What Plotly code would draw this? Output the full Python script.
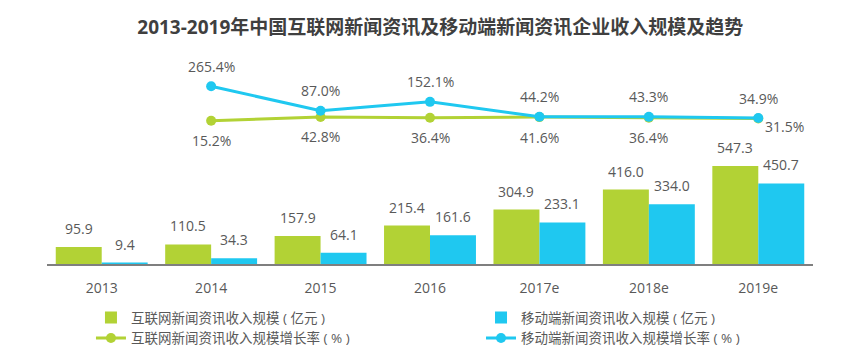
import plotly.graph_objects as go

categories = ["2013", "2014", "2015", "2016", "2017e", "2018e", "2019e"]
internet_rev = [95.9, 110.5, 157.9, 215.4, 304.9, 416.0, 547.3]
mobile_rev = [9.4, 34.3, 64.1, 161.6, 233.1, 334.0, 450.7]
internet_growth = [None, 15.2, 42.8, 36.4, 41.6, 36.4, 31.5]
mobile_growth = [None, 265.4, 87.0, 152.1, 44.2, 43.3, 34.9]

GREEN = "#b2d235"
CYAN = "#1fc8f0"
TXT = "#595959"
FONT = "Open Sans, Noto Sans CJK SC, sans-serif"

fig = go.Figure()
fig.add_trace(go.Bar(x=categories, y=internet_rev, name="互联网新闻资讯收入规模 ( 亿元 )",
                     marker=dict(color=GREEN, line=dict(width=0)), legend="legend"))
fig.add_trace(go.Bar(x=categories, y=mobile_rev, name="移动端新闻资讯收入规模 ( 亿元 )",
                     marker=dict(color=CYAN, line=dict(width=0)), legend="legend2"))
fig.add_trace(go.Scatter(x=categories, y=internet_growth, yaxis="y2", mode="lines+markers",
                         name="互联网新闻资讯收入规模增长率 ( % )", legend="legend",
                         line=dict(color=GREEN, width=3), marker=dict(size=10, color=GREEN)))
fig.add_trace(go.Scatter(x=categories, y=mobile_growth, yaxis="y2", mode="lines+markers",
                         name="移动端新闻资讯收入规模增长率 ( % )", legend="legend2",
                         line=dict(color=CYAN, width=3), marker=dict(size=10, color=CYAN)))

lab_font = dict(size=14, color=TXT, family=FONT)
ann = []
# category axes: annotation x given as category index
for i, v in enumerate(internet_rev):
    ann.append(dict(x=i, y=v, xref="x", yref="y", text=f"{v:.1f}", showarrow=False,
                    xshift=-23, yshift=7, yanchor="bottom", font=lab_font))
for i, v in enumerate(mobile_rev):
    ann.append(dict(x=i, y=v, xref="x", yref="y", text=f"{v:.1f}", showarrow=False,
                    xshift=23, yshift=7, yanchor="bottom", font=lab_font))
for i, v in enumerate(mobile_growth):
    if v is None:
        continue
    ann.append(dict(x=i, y=v, xref="x", yref="y2", text=f"{v:.1f}%", showarrow=False,
                    yshift=20, yanchor="middle", font=lab_font))
for i, v in enumerate(internet_growth):
    if v is None:
        continue
    if i == len(categories) - 1:
        ann.append(dict(x=i, y=v, xref="x", yref="y2", text=f"{v:.1f}%", showarrow=False,
                        xshift=5, yshift=-8, xanchor="left", yanchor="middle", font=lab_font))
    else:
        ann.append(dict(x=i, y=v, xref="x", yref="y2", text=f"{v:.1f}%", showarrow=False,
                        yshift=-20, yanchor="middle", font=lab_font))

leg_common = dict(orientation="v", yanchor="top", y=0.153, xanchor="left",
                  traceorder="normal", font=dict(size=13.5, color=TXT), itemwidth=30,
                  bgcolor="rgba(0,0,0,0)", tracegroupgap=0)

fig.update_layout(
    width=851, height=356,
    margin=dict(l=39, r=46, t=52, b=10),
    paper_bgcolor="white", plot_bgcolor="white",
    font=dict(family=FONT, color=TXT, size=13),
    title=dict(text="<b>2013-2019年中国互联网新闻资讯及移动端新闻资讯企业收入规模及趋势</b>",
               x=0.508, xref="container", xanchor="center",
               y=1 - 19 / 356, yref="container", yanchor="middle",
               font=dict(size=19, color="#3f3f3f", family=FONT)),
    barmode="group", bargap=0.16, bargroupgap=0,
    xaxis=dict(type="category", range=[-0.5, len(categories) - 0.5], anchor="y",
               showline=True, linecolor="#7f7f7f", linewidth=1.5, showgrid=False,
               ticks="outside", ticklen=10, tickcolor="rgba(0,0,0,0)",
               tickfont=dict(size=14, color=TXT)),
    yaxis=dict(domain=[0.2857, 1], range=[0, 1138], visible=False, showgrid=False, zeroline=False),
    yaxis2=dict(domain=[0.2857, 1], range=[-1024, 455], overlaying="y", visible=False,
                showgrid=False, zeroline=False),
    showlegend=True,
    legend=dict(x=0.0574, **leg_common),
    legend2=dict(x=0.5666, **leg_common),
    annotations=ann,
)

fig.write_html("out.html")
